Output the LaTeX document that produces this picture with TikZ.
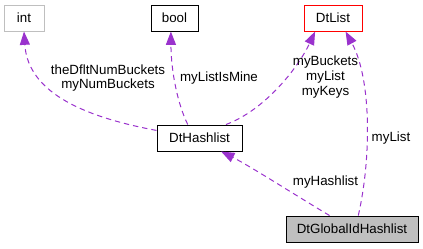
\documentclass[tikz,border=0pt]{standalone}
\usepackage{fontspec}
\setmainfont{Liberation Sans}
\usetikzlibrary{arrows.meta, positioning}

\definecolor{edgepurple}{HTML}{9A32CD}
\definecolor{boxgray}{HTML}{BFBFBF}

\begin{document}
\begin{tikzpicture}[
    x=0.75pt, y=-0.75pt,
    cls/.style={draw, line width=0.75pt, minimum height=19.5pt, inner sep=0pt, font=\fontsize{10}{11}\selectfont},
    edge/.style={draw=edgepurple, line width=0.75pt, dash pattern=on 4pt off 3pt,
      -{Triangle[length=10pt, width=7.5pt, fill=edgepurple, sharp]}},
    elbl/.style={align=center, inner sep=0pt, font=\fontsize{10}{11}\selectfont}
  ]
    \useasboundingbox (0,0) rectangle (423,248);
    \foreach \n/\t/\x/\w/\c in {int/int/24/40/boxgray, bool/bool/174.5/47/black, lst/DtList/333/58/red} {
      \node[cls, draw=\c, minimum width=\w*0.75pt] (\n) at (\x,18) {\t};
    }
    \node[cls, minimum width=63.75pt] (hash) at (199.5,138) {DtHashlist};
    \node[cls, fill=boxgray, minimum width=99pt] (glob) at (352,229) {DtGlobalIdHashlist};

    \draw[edge] (hash.170) .. controls (90,118) and (28,95) .. (int.south);
    \draw[edge] (hash.131) .. controls (178,105) and (171,72) .. (bool.255);
    \draw[edge] (hash.27) .. controls (265,110) and (298,68) .. (lst.217);
    \draw[edge] (glob.65) .. controls (371,160) and (372,80) .. (lst.313);
    \draw[edge] (glob.149) .. controls (300,198) and (250,166) .. (hash.328);

    \node[elbl] (lint) at (108,78) {theDfltNumBuckets\\myNumBuckets};
    \node[elbl] (lbool) at (219,78) {myListIsMine};
    \node[elbl] (llst) at (325.5,77) {myBuckets\\myList\\myKeys};
    \node[elbl] (lglst) at (391,138) {myList};
    \node[elbl] (lhash) at (325.5,182) {myHashlist};
  \end{tikzpicture}
\end{document}
